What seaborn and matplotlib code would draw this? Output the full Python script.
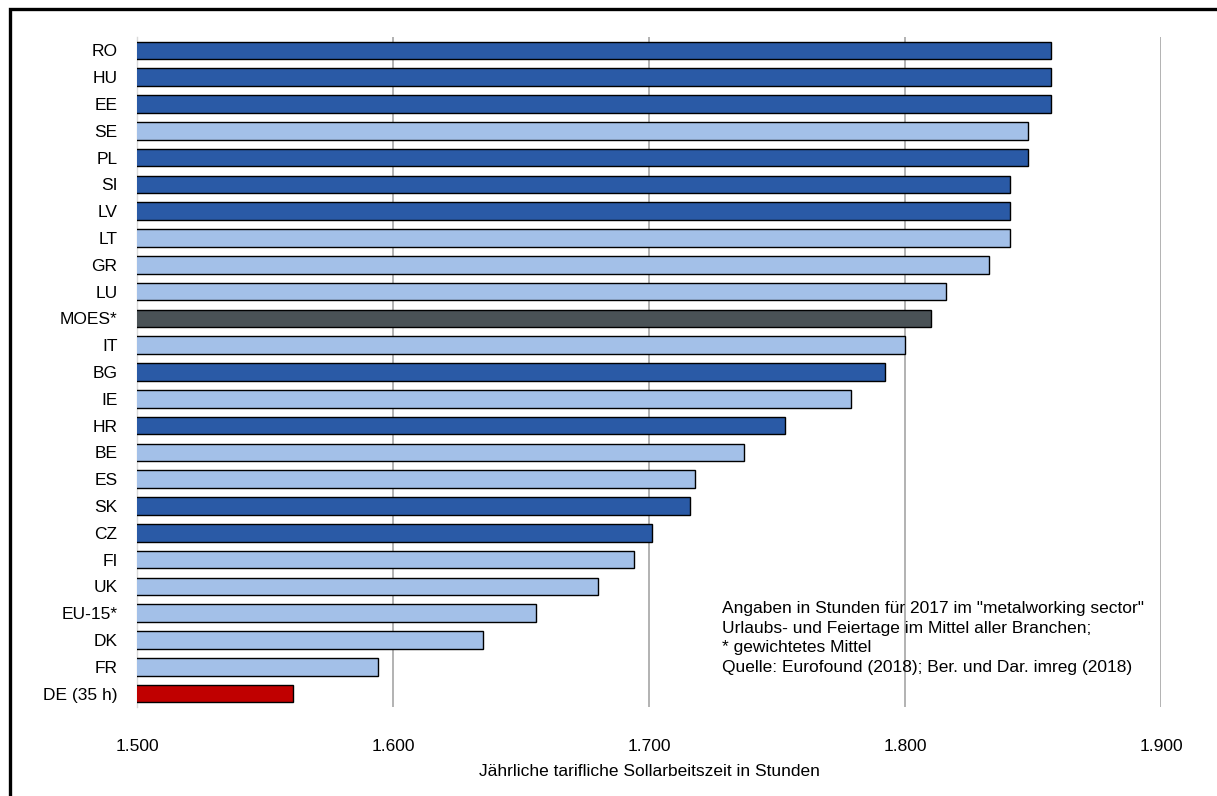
import matplotlib
matplotlib.use("Agg")
import matplotlib.pyplot as plt
import matplotlib.ticker as mticker
from matplotlib.patches import Rectangle
import seaborn as sns
import pandas as pd

# Collectively agreed annual working time, metalworking sector 2017
countries = ["RO", "HU", "EE", "SE", "PL", "SI", "LV", "LT", "GR", "LU",
             "MOES*", "IT", "BG", "IE", "HR", "BE", "ES", "SK", "CZ", "FI",
             "UK", "EU-15*", "DK", "FR", "DE (35 h)"]
hours = [1857, 1857, 1857, 1848, 1848, 1841, 1841, 1841, 1833, 1816,
         1810, 1800, 1792, 1779, 1753, 1737, 1718, 1716, 1701, 1694,
         1680, 1656, 1635, 1594, 1561]
groups = ["MOE", "MOE", "MOE", "EU15", "MOE", "MOE", "MOE", "EU15", "EU15", "EU15",
          "MOES", "EU15", "MOE", "EU15", "MOE", "EU15", "EU15", "MOE", "MOE", "EU15",
          "EU15", "EU15", "EU15", "EU15", "DE"]
x_ticks = [1500, 1600, 1700, 1800, 1900]

palette = {"MOE": "#2A5AA6", "EU15": "#A3C0E8", "MOES": "#4A5256", "DE": "#C00000"}

df = pd.DataFrame({"land": countries, "stunden": hours, "gruppe": groups})

sns.set_style("white")
plt.rcParams["font.family"] = ["Liberation Sans", "DejaVu Sans"]
plt.rcParams["text.color"] = "black"
plt.rcParams["axes.labelcolor"] = "black"
plt.rcParams["xtick.color"] = "black"
plt.rcParams["ytick.color"] = "black"

fig = plt.figure(figsize=(12.17, 7.96), dpi=100)
ax = fig.add_axes([137 / 1217, 1 - 707 / 796, (1161 - 137) / 1217, (707 - 37) / 796])

sns.barplot(data=df, y="land", x="stunden", hue="gruppe", palette=palette,
            orient="h", dodge=False, legend=False, width=0.65, saturation=1,
            edgecolor="black", linewidth=1.0, ax=ax, zorder=3)

ax.set_xlim(1500, 1900)
ax.set_ylim(len(countries) - 0.5, -0.5)
ax.set_xticks(x_ticks)
ax.xaxis.set_major_formatter(mticker.FuncFormatter(lambda v, p: f"{v/1000:.3f}"))
ax.grid(axis="x", color="#A6A6A6", linewidth=1.2, zorder=0)
ax.grid(axis="y", visible=False)
for side in ["top", "right", "bottom"]:
    ax.spines[side].set_visible(False)
ax.spines["left"].set_color("#D9D9D9")
ax.spines["left"].set_linewidth(1.0)
ax.tick_params(axis="y", length=0, pad=14, labelsize=12.5)
ax.tick_params(axis="x", length=0, pad=23, labelsize=12.5)
ax.set_ylabel("")
ax.set_xlabel("Jährliche tarifliche Sollarbeitszeit in Stunden", fontsize=12.5, labelpad=7)

fig.text(722 / 1217, 1 - 601 / 796,
         "Angaben in Stunden für 2017 im \"metalworking sector\"\n"
         "Urlaubs- und Feiertage im Mittel aller Branchen;\n"
         "* gewichtetes Mittel\n"
         "Quelle: Eurofound (2018); Ber. und Dar. imreg (2018)",
         ha="left", va="top", fontsize=12.5, linespacing=1.38)

# outer frame
fig.patches.append(Rectangle((10 / 1217, -0.05), 1.2, 1 - 8.5 / 796 + 0.05,
                             transform=fig.transFigure, fill=False,
                             edgecolor="black", linewidth=2.4))

fig.savefig("out.png", dpi=100)
